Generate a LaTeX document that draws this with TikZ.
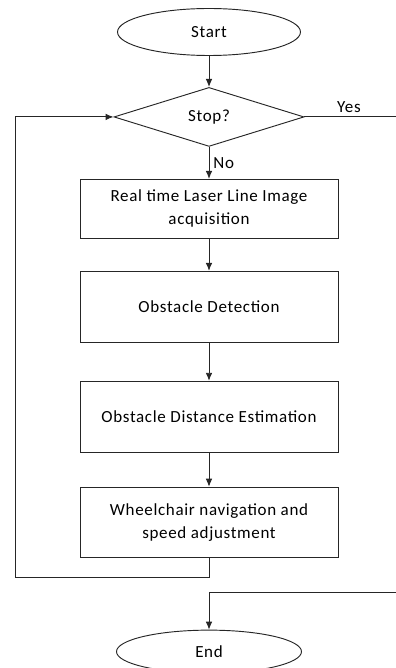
\documentclass[tikz,border=0pt]{standalone}
\usepackage{fontspec}
\setmainfont[LetterSpace=4]{Carlito}
\usetikzlibrary{arrows.meta,positioning,shapes.geometric}

\begin{document}
\begin{tikzpicture}[
  node distance=0.96cm,
  font=\fontsize{14.5}{19.5}\selectfont,
  terminal/.style={ellipse, draw=black!85, line width=0.8pt, inner sep=0pt},
  decision/.style={diamond, draw=black!85, line width=0.8pt, inner sep=0pt,
    minimum width=5.7cm, minimum height=1.77cm},
  process/.style={rectangle, draw=black!85, line width=0.8pt, align=center,
    minimum width=7.74cm, minimum height=1.77cm},
  tall/.style={minimum height=2.13cm},
  line/.style={draw=black!85, line width=0.8pt},
  arrow/.style={line, -{Latex[length=2.4mm, width=2mm]}}
]
  \useasboundingbox (0,0) rectangle (11.85,-20.04);

  \node[terminal, minimum width=5.49cm, minimum height=1.41cm] (start) at (6.27,-0.96) {Start};
  \node[decision, below=0.93cm of start] (stop) {Stop?};
  \node[process, below=of stop] (acq) {Real time Laser Line Image\\acquisition};
  \node[process, tall, below=of acq] (detect) {Obstacle Detection};
  \node[process, tall, below=1.14cm of detect] (dist) {Obstacle Distance Estimation};
  \node[process, minimum height=2.1cm, below=1.02cm of dist] (nav) {Wheelchair navigation and\\speed adjustment};
  \node[terminal, minimum width=5.55cm, minimum height=1.29cm, below=2.16cm of nav] (finish) {End};

  % rails for the loop back and the exit
  \coordinate (leftrail) at (0.45,0);
  \coordinate (rightrail) at (12.1,0);
  \coordinate (loopcorner) at ([yshift=-0.6cm]nav.south);
  \coordinate (merge) at ([yshift=1.11cm]finish.north);

  \draw[arrow] (start) -- (stop);
  \draw[arrow] (stop) -- node[right] {No} (acq);
  \draw[arrow] (acq) -- (detect);
  \draw[arrow] (detect) -- (dist);
  \draw[arrow] (dist) -- (nav);
  \draw[arrow] (nav.south) -- (loopcorner) -- (loopcorner -| leftrail) |- (stop.west);
  \draw[line] (stop.east) -- node[above, pos=0.45] {Yes} (stop.east -| rightrail) |- (merge);
  \draw[arrow] (merge) -- (finish.north);
\end{tikzpicture}
\end{document}
